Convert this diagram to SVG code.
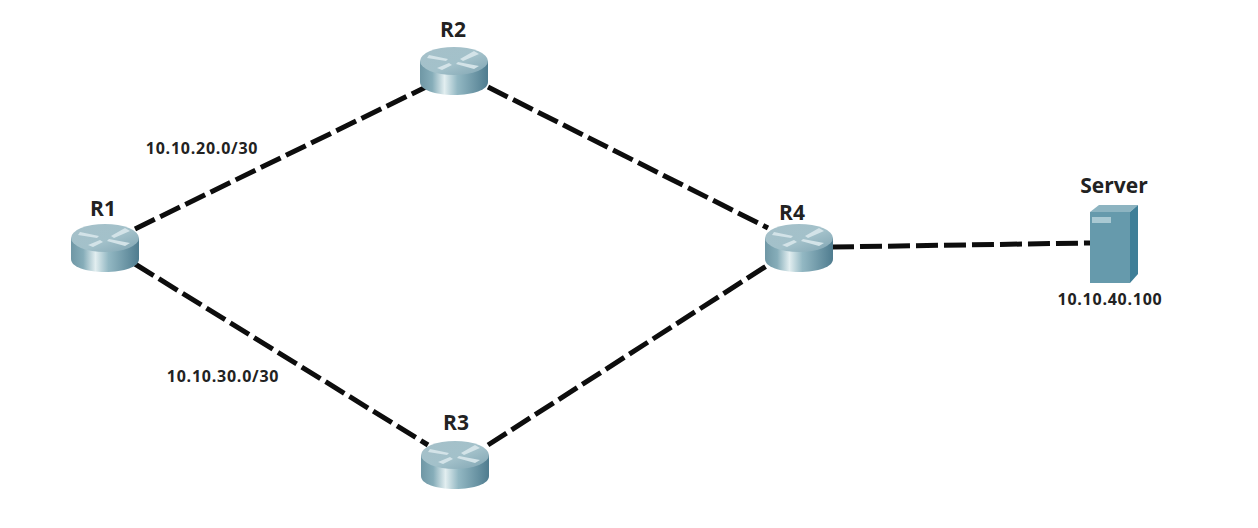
<svg xmlns="http://www.w3.org/2000/svg" width="1258" height="528" viewBox="0 0 1258 528">
<style>
text{font-family:"Open Sans","Noto Sans",sans-serif;font-weight:700;fill:#222;text-anchor:middle}
.n{font-size:21px}
.s{font-size:16px;letter-spacing:.75px}
.l{fill:none;stroke:#0d0d0d;stroke-width:5;stroke-dasharray:22 6}
.arrow{fill:#d3e3e8;stroke:none}
</style>
<defs>
<linearGradient id="body" x1="0" x2="1" y1="0" y2="0">
<stop offset="0" stop-color="#6f97a5"/><stop offset=".18" stop-color="#86adb9"/><stop offset=".36" stop-color="#e2eef0"/><stop offset=".55" stop-color="#93b8c3"/><stop offset="1" stop-color="#4f7c8f"/>
</linearGradient>
<linearGradient id="top" x1="0" x2="1" y1="0" y2="1">
<stop offset="0" stop-color="#a5c0c9"/><stop offset=".55" stop-color="#a3c1ca"/><stop offset="1" stop-color="#7fa4b2"/>
</linearGradient>
<g id="router">
<path d="M-34-8V13C-34 21-19 26 0 26S34 21 34 13V-8Z" fill="url(#body)"/>
<ellipse cx="0" cy="-8" rx="34" ry="14" fill="url(#top)"/>
<path class="arrow" d="M-25-14-6-10-8-8-27-11ZM20-18 6-10 9-8 25-15ZM-17-1-5-6-2-4-12 1ZM25-3 4-7 2-5 20 0Z"/>
</g>
</defs>
<rect width="1258" height="528" fill="#fff"/>
<g id="connectors">
<path class="l" d="M135 229 428 86"/>
<path class="l" d="M135 264 428 445"/>
<path class="l" d="M488 87 768 228"/>
<path class="l" d="M488 445 768 265"/>
<path class="l" d="M832 247 1090 243"/>
</g>
<g id="R1"><use href="#router" x="105" y="246"/><text class="n" x="103" y="216">R1</text></g>
<g id="R2"><use href="#router" x="454" y="69"/><text class="n" x="453" y="37">R2</text></g>
<g id="R3"><use href="#router" x="455" y="463"/><text class="n" x="456" y="430">R3</text></g>
<g id="R4"><use href="#router" x="799" y="246"/><text class="n" x="792" y="220">R4</text></g>
<g id="Server">
<path d="M1090 212 1099 205H1138L1130 212Z" fill="#8db4c1"/>
<path d="M1130 212 1138 205V274L1130 283Z" fill="#3f7f98"/>
<rect x="1090" y="212" width="40" height="71" fill="#669aac"/>
<rect x="1092" y="217" width="19" height="6" fill="#a9c9d3"/>
<text class="n" x="1114" y="193">Server</text>
<text class="s" x="1110" y="305">10.10.40.100</text>
</g>
<g id="labels">
<text class="s" x="202" y="154">10.10.20.0/30</text>
<text class="s" x="223" y="382">10.10.30.0/30</text>
</g>
</svg>
